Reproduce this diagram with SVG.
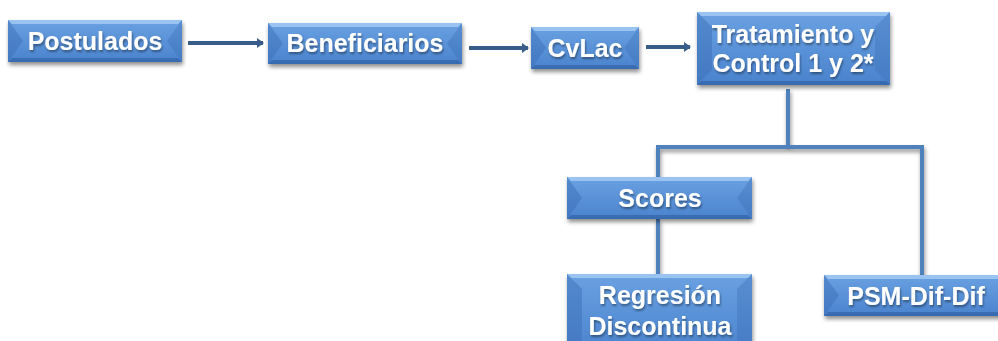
<svg xmlns="http://www.w3.org/2000/svg" width="998" height="341" viewBox="0 0 998 341">
<defs>
<linearGradient id="g" x1="0" y1="0" x2="0" y2="1">
<stop offset="0" stop-color="#6aa1e2"/>
<stop offset="1" stop-color="#4a83cd"/>
</linearGradient>
<filter id="sh" x="-10%" y="-20%" width="125%" height="150%">
<feGaussianBlur in="SourceAlpha" stdDeviation="2"/>
<feOffset dx="1" dy="3" result="b"/>
<feComponentTransfer><feFuncA type="linear" slope="0.45"/></feComponentTransfer>
<feMerge><feMergeNode/><feMergeNode in="SourceGraphic"/></feMerge>
</filter>
<filter id="ts" x="-5%" y="-20%" width="110%" height="140%">
<feGaussianBlur in="SourceAlpha" stdDeviation="0.8"/>
<feOffset dx="1" dy="1.5"/>
<feComponentTransfer><feFuncA type="linear" slope="0.4"/></feComponentTransfer>
<feMerge><feMergeNode/><feMergeNode in="SourceGraphic"/></feMerge>
</filter>
<marker id="ah" markerWidth="10" markerHeight="12" refX="6" refY="5" orient="auto" markerUnits="userSpaceOnUse">
<path d="M0,0 L7,5 L0,10 Z" fill="#385d8a"/>
</marker>
</defs>
<style>
.base{fill:url(#g)}
.top{fill:#a9cff5;opacity:.75}
.lft{fill:#3a6cb3;opacity:.45}
.rgt{fill:#3a6cb3;opacity:.35}
.bot{fill:#2c5a9a;opacity:.55}
.t{font-family:"Liberation Sans",Arial,sans-serif;font-weight:bold;font-size:25px;fill:#fff;text-anchor:middle;filter:url(#ts)}
.arr{stroke:#385d8a;stroke-width:4;fill:none}
.tree{stroke:#4f81bd;stroke-width:4;fill:none}
</style>
<g id="connectors">
<line class="arr" x1="188" y1="43" x2="263" y2="43" marker-end="url(#ah)"/>
<line class="arr" x1="469" y1="48" x2="528" y2="48" marker-end="url(#ah)"/>
<line class="arr" x1="646" y1="47" x2="690" y2="47" marker-end="url(#ah)"/>
<g filter="url(#sh)">
<path class="tree" d="M788,89 V147 M656,147 H924 M658,147 V177 M658,219 V274 M922,147 V275"/>
</g>
</g>
<g id="postulados" filter="url(#sh)">
<rect class="base" x="8" y="20" width="174" height="42"/>
<polygon class="top" points="8,20 182,20 178,24 12,24"/>
<polygon class="lft" points="8,20 23,41 8,62"/>
<polygon class="rgt" points="182,20 182,62 167,41"/>
<polygon class="bot" points="8,62 12,58 178,58 182,62"/>
<text class="t" x="95" y="50">Postulados</text>
</g>
<g id="beneficiarios" filter="url(#sh)">
<rect class="base" x="268" y="23" width="194" height="41"/>
<polygon class="top" points="268,23 462,23 458,27 272,27"/>
<polygon class="lft" points="268,23 283,43.5 268,64"/>
<polygon class="rgt" points="462,23 462,64 447,43.5"/>
<polygon class="bot" points="268,64 272,60 458,60 462,64"/>
<text class="t" x="365" y="52">Beneficiarios</text>
</g>
<g id="cvlac" filter="url(#sh)">
<rect class="base" x="531" y="27" width="108" height="42"/>
<polygon class="top" points="531,27 639,27 635,31 535,31"/>
<polygon class="lft" points="531,27 546,48 531,69"/>
<polygon class="rgt" points="639,27 639,69 624,48"/>
<polygon class="bot" points="531,69 535,65 635,65 639,69"/>
<text class="t" x="585" y="57">CvLac</text>
</g>
<g id="tratamiento" filter="url(#sh)">
<rect class="base" x="697" y="12" width="193" height="73"/>
<polygon class="top" points="697,12 890,12 886,16 701,16"/>
<polygon class="lft" points="697,12 712,27 712,70 697,85"/>
<polygon class="rgt" points="890,12 890,85 875,70 875,27"/>
<polygon class="bot" points="697,85 701,81 886,81 890,85"/>
<text class="t" x="793" y="43">Tratamiento y</text>
<text class="t" x="793" y="72">Control 1 y 2*</text>
</g>
<g id="scores" filter="url(#sh)">
<rect class="base" x="567" y="177" width="185" height="42"/>
<polygon class="top" points="567,177 752,177 748,181 571,181"/>
<polygon class="lft" points="567,177 582,198 567,219"/>
<polygon class="rgt" points="752,177 752,219 737,198"/>
<polygon class="bot" points="567,219 571,215 748,215 752,219"/>
<text class="t" x="660" y="207">Scores</text>
</g>
<g id="regresion" filter="url(#sh)">
<rect class="base" x="567" y="274" width="185" height="80"/>
<polygon class="top" points="567,274 752,274 748,278 571,278"/>
<polygon class="lft" points="567,274 582,289 582,354 567,354"/>
<polygon class="rgt" points="752,274 752,354 737,354 737,289"/>
<text class="t" x="660" y="304">Regresión</text>
<text class="t" x="660" y="335">Discontinua</text>
</g>
<g id="psm" filter="url(#sh)">
<rect class="base" x="824" y="275" width="184" height="41"/>
<polygon class="top" points="824,275 1008,275 1004,279 828,279"/>
<polygon class="lft" points="824,275 839,295.5 824,316"/>
<polygon class="bot" points="824,316 828,312 1004,312 1008,316"/>
<text class="t" x="916" y="305">PSM-Dif-Dif</text>
</g>
</svg>
